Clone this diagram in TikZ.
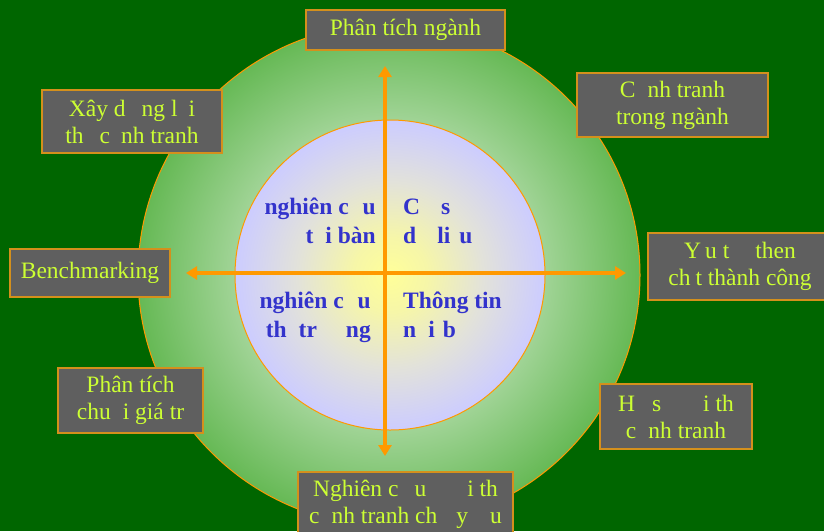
\documentclass[tikz,border=0pt]{standalone}
\usepackage{fontspec}
\setmainfont{Liberation Serif}
\usetikzlibrary{arrows.meta}
\definecolor{bggreen}{HTML}{006600}
\definecolor{ringout}{HTML}{66B955}
\definecolor{incen}{HTML}{FFFF99}
\definecolor{innear}{HTML}{F6F6A8}
\definecolor{inmid}{HTML}{E2E2DA}
\definecolor{inedge}{HTML}{CCCCFF}
\definecolor{axisorange}{HTML}{FF9900}
\definecolor{boxborder}{HTML}{D4901C}
\definecolor{boxfill}{HTML}{5F5F5F}
\definecolor{boxtext}{HTML}{CCFF33}
\definecolor{innertext}{HTML}{3333CC}
\pgfdeclareradialshading{outerring}{\pgfpoint{0bp}{0bp}}{color(0bp)=(white); color(25bp)=(ringout); color(50bp)=(ringout)}
\pgfdeclareradialshading{innerdisc}{\pgfpoint{0bp}{0bp}}{color(0bp)=(incen); color(6bp)=(innear); color(15bp)=(inmid); color(25bp)=(inedge); color(50bp)=(inedge)}
\newcommand{\gp}[1]{\hspace*{#1pt}}
\begin{document}
\begin{tikzpicture}[x=1pt,y=-1pt,
  infobox/.style={draw=boxborder, line width=1.3pt, fill=boxfill, text=boxtext,
    font=\fontsize{23.5}{27}\selectfont, align=center, inner sep=0pt},
  quadtext/.style={text=innertext, font=\fontsize{23.5}{29}\selectfont\bfseries, inner sep=0pt},
  axisline/.style={draw=axisorange, line width=3.5pt,
    {Triangle[length=11pt,width=13pt]}-{Triangle[length=11pt,width=13pt]}}]
\clip (0,0) rectangle (824,531);
\fill[bggreen] (0,0) rectangle (824,531);
\node[circle, minimum size=502pt, inner sep=0pt, shading=outerring, draw=axisorange, line width=1pt] (outer) at (389,275) {};
\node[circle, minimum size=310pt, inner sep=0pt, shading=innerdisc, draw=axisorange, line width=1pt] (inner) at (390,275) {};
\coordinate (ytop) at (385,66);
\coordinate (ybot) at (385,456);
\coordinate (xleft) at (186,273);
\coordinate (xright) at (626,273);
\draw[axisline] (ybot) -- (ytop);
\draw[axisline] (xleft) -- (xright);
% quadrant texts
\node[quadtext, anchor=base east] (tl1) at (376,214) {nghiên c\gp{14}u};
\node[quadtext, anchor=base east] (tl2) at (376,243) {t\gp{12}i bàn};
\node[quadtext, anchor=base west] (tr1) at (403,214) {C\gp{21}s};
\node[quadtext, anchor=base west] (tr2) at (403,243) {d\gp{21}li\gp{9}u};
\node[quadtext, anchor=base east] (bl1) at (371,308) {nghiên c\gp{14}u};
\node[quadtext, anchor=base east] (bl2) at (371,337) {th\gp{12}tr\gp{29}ng};
\node[quadtext, anchor=base west] (br1) at (403,308) {Thông tin};
\node[quadtext, anchor=base west] (br2) at (403,337) {n\gp{12}i\gp{8}b};
% boxes
\node[infobox, minimum width=199pt, minimum height=40pt] (nganh) at (405.5,30) {Phân tích ngành};
\node[infobox, minimum width=180pt, minimum height=63pt] (loithe) at (132,121.5) {Xây d\gp{16}ng l\gp{11}i\\th\gp{16}c\gp{11}nh tranh};
\node[infobox, minimum width=191pt, minimum height=64pt] (canhtranh) at (672.5,105) {C\gp{12}nh tranh\\trong ngành};
\node[infobox, minimum width=184pt, minimum height=67pt] (yeuto) at (740,266.5) {Y\gp{4}u\gp{6}t\gp{26}then\\ch\gp{5}t thành công};
\node[infobox, minimum width=160pt, minimum height=48pt] (bench) at (90,273) {Benchmarking};
\node[infobox, minimum width=145pt, minimum height=65pt] (chuoi) at (130.5,400.5) {Phân tích\\chu\gp{12}i giá tr};
\node[infobox, minimum width=152pt, minimum height=65pt] (hoso) at (676,416.5) {H\gp{17}s\gp{42}i th\\c\gp{12}nh tranh};
\node[infobox, minimum width=215pt, minimum height=64pt] (doithu) at (405.5,504) {Nghiên c\gp{16}u\gp{41}i th\\c\gp{12}nh tranh ch\gp{19}y\gp{22}u};
\end{tikzpicture}
\end{document}
